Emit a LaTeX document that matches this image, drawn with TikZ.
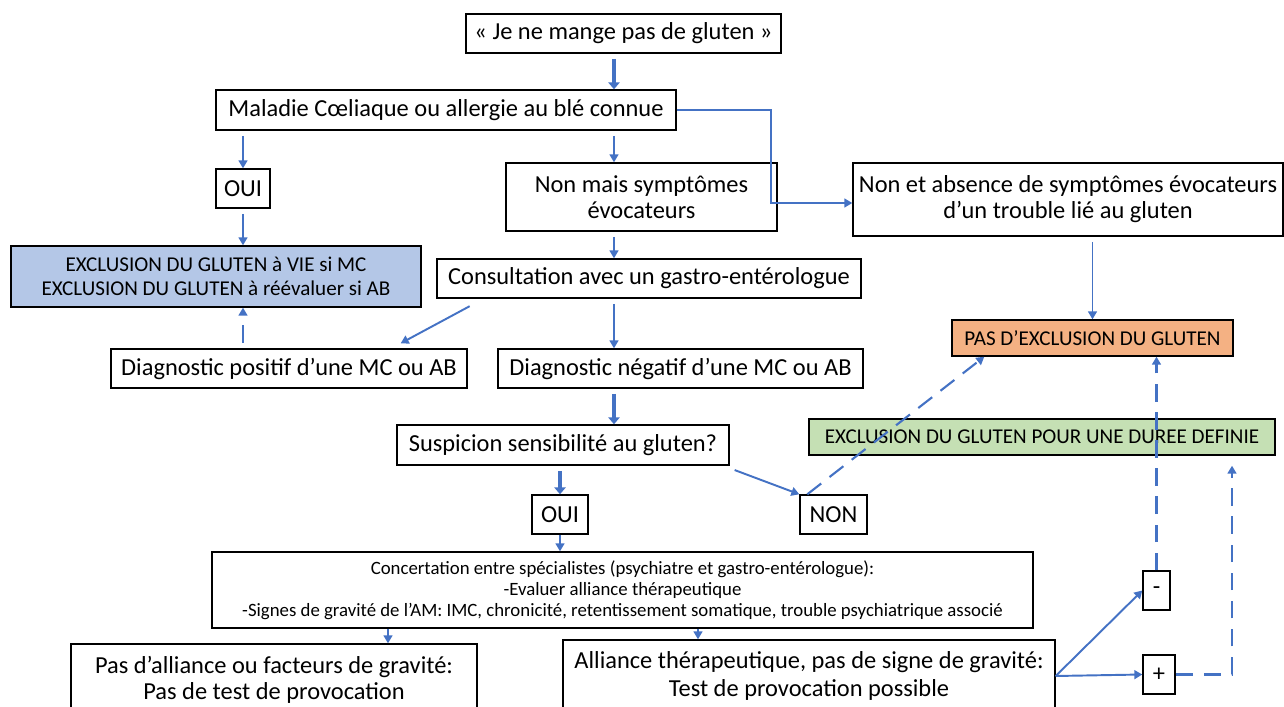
\documentclass[tikz,border=0pt]{standalone}
\usepackage{fontspec}
\setmainfont{Carlito}
\usepackage{tikz}
\usetikzlibrary{arrows.meta}
\definecolor{flowblue}{HTML}{4472C4}
\definecolor{fillblue}{HTML}{B4C7E7}
\definecolor{fillorange}{HTML}{F4B183}
\definecolor{fillgreen}{HTML}{C5E0B4}
\tikzstyle{box} = [rectangle, draw=black, line width=0.8pt, inner sep=0pt, align=center, font=\fontsize{13.9}{14.7}\selectfont]
\tikzstyle{capsbox} = [box, font=\fontsize{12}{13.6}\selectfont]
\tikzstyle{smallbox} = [box, font=\fontsize{10.7}{11.9}\selectfont]
\tikzstyle{arrow} = [draw=flowblue, line width=1.1pt, -{Triangle[length=4.5pt,width=5pt]}, shorten <=3pt]
\tikzstyle{bigarrow} = [arrow, line width=2.2pt, -{Triangle[length=4pt,width=6.5pt]}]
\tikzstyle{dasharrow} = [arrow, line width=1.2pt, dash pattern=on 10pt off 6pt]

\begin{document}
\begin{tikzpicture}[x=0.2mm, y=-0.2mm]
  \useasboundingbox (0,0) rectangle (1284,707);
  \clip (0,0) rectangle (1284,707);

  % boxes
  \node[box, minimum width=63mm, minimum height=7.8mm] (gluten) at (623.5,33.5) {« Je ne mange pas de gluten »};
  \node[box, minimum width=92mm, minimum height=8mm] (maladie) at (446,110) {Maladie Cœliaque ou allergie au blé connue};
  \node[box, minimum width=10.8mm, minimum height=7.8mm] (ouiA) at (243,188.5) {OUI};
  \node[box, minimum width=54.2mm, minimum height=13.6mm] (nonmais) at (641.5,197) {Non mais symptômes\\évocateurs};
  \node[box, minimum width=86mm, minimum height=14.6mm] (nonabs) at (1068,199.5) {Non et absence de symptômes évocateurs\\d’un trouble lié au gluten};
  \node[capsbox, fill=fillblue, minimum width=82mm, minimum height=12.2mm] (exclvie) at (216,276.5) {EXCLUSION DU GLUTEN à VIE si MC\\EXCLUSION DU GLUTEN à réévaluer si AB};
  \node[box, minimum width=84.8mm, minimum height=7.8mm] (consult) at (649,278.5) {Consultation avec un gastro-entérologue};
  \node[box, minimum width=71.2mm, minimum height=7.8mm] (diagpos) at (289,368.5) {Diagnostic positif d’une MC ou AB};
  \node[box, minimum width=73mm, minimum height=7.8mm] (diagneg) at (680.5,368.5) {Diagnostic négatif d’une MC ou AB};
  \node[capsbox, fill=fillorange, minimum width=56.2mm, minimum height=7.2mm] (pasexcl) at (1092.5,338) {PAS D’EXCLUSION DU GLUTEN};
  \node[box, minimum width=66.4mm, minimum height=8mm] (suspicion) at (563,445) {Suspicion sensibilité au gluten?};
  \node[capsbox, fill=fillgreen, minimum width=93.2mm, minimum height=7.2mm] (duree) at (1042,437) {EXCLUSION DU GLUTEN POUR UNE DUREE DEFINIE};
  \node[box, minimum width=11.2mm, minimum height=7.8mm] (ouiB) at (560,514.5) {OUI};
  \node[box, minimum width=13.4mm, minimum height=7.8mm] (non) at (833.5,514.5) {NON};
  \node[smallbox, minimum width=164.2mm, minimum height=15.2mm] (concert) at (622.5,590) {Concertation entre spécialistes (psychiatre et gastro-entérologue):\\-Evaluer alliance thérapeutique\\-Signes de gravité de l’AM: IMC, chronicité, retentissement somatique, trouble psychiatrique associé};
  \node[box, minimum width=81.2mm, minimum height=14.4mm, font=\fontsize{13.9}{15}\selectfont] (pasall) at (274,680) {Pas d’alliance ou facteurs de gravité:\\Pas de test de provocation};
  \node[box, minimum width=98.4mm, minimum height=14.4mm, font=\fontsize{13.9}{15.9}\selectfont] (alliance) at (809,676) {Alliance thérapeutique, pas de signe de gravité:\\Test de provocation possible};
  \node[box, minimum width=5.4mm, minimum height=7.8mm] (moins) at (1156.5,590.5) {-};
  \node[box, minimum width=6.4mm, minimum height=7.8mm] (plus) at (1159,674.5) {+};

  % connectors
  \draw[bigarrow] ([xshift=-1.9mm]gluten.south) -- ([xshift=-1.9mm]gluten.south |- maladie.north);
  \draw[arrow] (ouiA.north |- maladie.south) -- (ouiA.north);
  \draw[arrow] ([xshift=-5.5mm]nonmais.north |- maladie.south) -- ([xshift=-5.5mm]nonmais.north);
  \draw[arrow, shorten <=0pt] (maladie.east) -- ++(94,0) |- ([yshift=-0.7mm]nonabs.west);
  \draw[arrow] (ouiA.south) -- (ouiA.south |- exclvie.north);
  \draw[arrow] ([xshift=-5.5mm]nonmais.south) -- ([xshift=-5.5mm]nonmais.south |- consult.north);
  \draw[arrow] ([xshift=7.6mm,yshift=-1mm]consult.south west) -- ([xshift=-13.4mm,yshift=1mm]diagpos.north east);
  \draw[arrow] ([xshift=-13.3mm]diagneg.north |- consult.south) -- ([xshift=-13.3mm]diagneg.north);
  \draw[dasharrow] ([xshift=5.4mm]exclvie.south |- diagpos.north) -- ([xshift=5.4mm]exclvie.south);
  \draw[arrow] (pasexcl.north |- nonabs.south) -- (pasexcl.north);
  \draw[bigarrow] ([xshift=-13.3mm]diagneg.south) -- ([xshift=-13.3mm]diagneg.south |- suspicion.north);
  \draw[bigarrow] (ouiB.north |- suspicion.south) -- (ouiB.north);
  \draw[arrow] ([yshift=-0.5mm]suspicion.south east) -- (non.north west);
  \draw[dasharrow, shorten <=0pt] ([xshift=1.6mm]non.north west) -- ([xshift=6.6mm]pasexcl.south west);
  \draw[arrow, shorten <=0pt] (ouiB.south) -- (ouiB.south |- concert.north);
  \draw[arrow, shorten <=0pt] ([xshift=22.8mm]pasall.north |- concert.south) -- ([xshift=22.8mm]pasall.north);
  \draw[arrow, shorten <=0pt] ([xshift=-22.2mm]alliance.north |- concert.south) -- ([xshift=-22.2mm]alliance.north);
  \draw[arrow, shorten <=0pt] (alliance.east) -- (moins.west);
  \draw[arrow, shorten <=0pt] (alliance.east) -- (plus.west);
  \draw[dasharrow, shorten <=0pt] (moins.north) -- (moins.north |- pasexcl.south);
  \draw[dasharrow, shorten <=0pt] (plus.east) -| ([xshift=38mm,yshift=-2mm]duree.south);
\end{tikzpicture}
\end{document}
